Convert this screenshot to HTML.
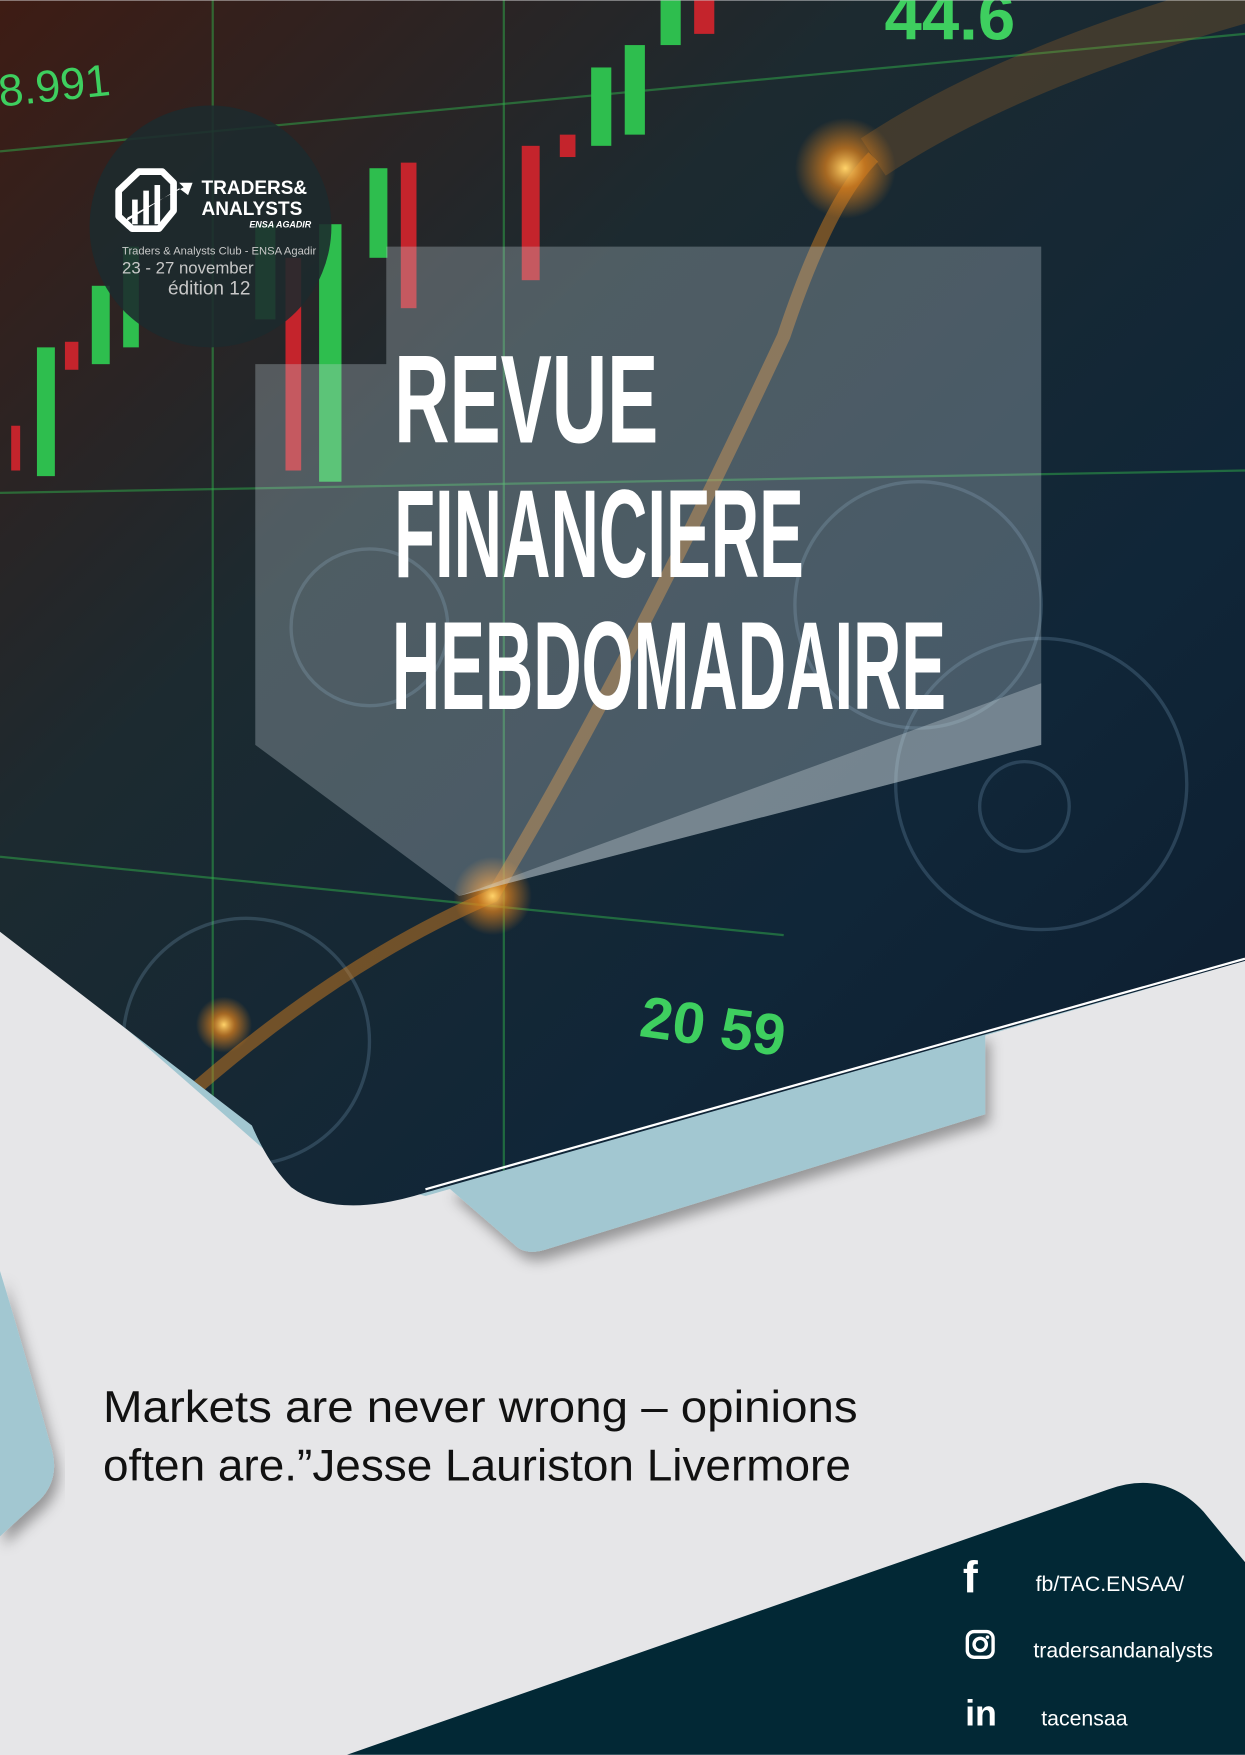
<!DOCTYPE html>
<html><head><meta charset="utf-8"><style>
html,body{margin:0;padding:0;background:#e6e6e8}
svg{display:block}
</style></head><body>
<svg width="1245" height="1755" viewBox="0 0 1112 1567" xmlns="http://www.w3.org/2000/svg">
<defs>
<linearGradient id="bg" x1="0" y1="0" x2="1" y2="1">
<stop offset="0" stop-color="#3e1c14"/><stop offset="0.35" stop-color="#1c2a30"/><stop offset="0.7" stop-color="#102638"/><stop offset="1" stop-color="#0c1c2e"/>
</linearGradient>
<radialGradient id="glow" cx="0.5" cy="0.5" r="0.5"><stop offset="0" stop-color="#ffd36a"/><stop offset="0.4" stop-color="#e0821c" stop-opacity="0.7"/><stop offset="1" stop-color="#e0821c" stop-opacity="0"/></radialGradient>
<filter id="sh" x="-20%" y="-20%" width="140%" height="140%"><feDropShadow dx="4" dy="8" stdDeviation="6" flood-color="#000" flood-opacity="0.35"/></filter>
<clipPath id="photo"><path d="M0,0 H1112 V858 L380,1065 Q300,1090 260,1060 Q240,1040 225,1005 L0,832 Z"/></clipPath>
</defs>
<rect x="0" y="0" width="1112" height="1567" fill="#e6e6e8"/>
<path d="M400,1060 L880,920 V995 L490,1115 Q470,1122 460,1112 Z" fill="#a2c7d1" filter="url(#sh)"/>
<path d="M0,820 L240,1030 L380,1068 L1112,858 V822 L380,1052 Z" fill="#a2c7d1"/>
<path d="M0,1135 Q20,1200 45,1290 Q55,1320 35,1340 L0,1372 Z" fill="#a2c7d1" filter="url(#sh)"/>
<g clip-path="url(#photo)">
<rect x="0" y="0" width="1112" height="1100" fill="url(#bg)"/>
<g stroke="#2fae4a" stroke-opacity="0.5" stroke-width="2" fill="none">
<line x1="0" y1="135" x2="1112" y2="30"/><line x1="0" y1="440" x2="1112" y2="420"/><line x1="0" y1="765" x2="700" y2="835"/>
<line x1="190" y1="0" x2="190" y2="1100"/><line x1="450" y1="0" x2="450" y2="1100"/>
</g>
<g>
<rect x="10" y="380" width="8" height="40" fill="#c4242c"/><rect x="33" y="310" width="16" height="115" fill="#2ebe4e"/>
<rect x="58" y="305" width="12" height="25" fill="#c4242c"/><rect x="82" y="255" width="16" height="70" fill="#2ebe4e"/>
<rect x="110" y="220" width="14" height="90" fill="#2ebe4e"/><rect x="228" y="200" width="18" height="85" fill="#2ebe4e"/>
<rect x="255" y="230" width="14" height="190" fill="#c4242c"/><rect x="285" y="200" width="20" height="230" fill="#2ebe4e"/>
<rect x="330" y="150" width="16" height="80" fill="#2ebe4e"/><rect x="358" y="145" width="14" height="130" fill="#c4242c"/>
<rect x="466" y="130" width="16" height="120" fill="#c4242c"/><rect x="500" y="120" width="14" height="20" fill="#c4242c"/>
<rect x="528" y="60" width="18" height="70" fill="#2ebe4e"/><rect x="558" y="40" width="18" height="80" fill="#2ebe4e"/>
<rect x="590" y="0" width="18" height="40" fill="#2ebe4e"/><rect x="620" y="0" width="18" height="30" fill="#c4242c"/>
</g>
<text x="0" y="95" font-family="Liberation Sans" font-size="40" fill="#3ecf5f" transform="rotate(-6 0 95)">8.991</text>
<text x="790" y="35" font-family="Liberation Sans" font-weight="bold" font-size="60" fill="#3ecf5f">44.6</text>
<text x="570" y="925" font-family="Liberation Sans" font-weight="bold" font-size="52" fill="#3ecf5f" transform="rotate(8 570 925)">20 59</text>
<g fill="none" stroke="#8fb7d4" stroke-opacity="0.22" stroke-width="3">
<circle cx="930" cy="700" r="130"/><circle cx="915" cy="720" r="40"/><circle cx="820" cy="540" r="110"/><circle cx="330" cy="560" r="70"/><circle cx="220" cy="930" r="110"/>
</g>
<path d="M160,985 Q300,860 440,800 Q560,600 700,300 Q740,180 780,140" stroke="#e0821c" stroke-opacity="0.45" stroke-width="12" fill="none"/>
<path d="M780,140 Q900,60 1112,0" stroke="#e0821c" stroke-opacity="0.2" stroke-width="40" fill="none"/>
<circle cx="440" cy="800" r="35" fill="url(#glow)"/><circle cx="200" cy="915" r="25" fill="url(#glow)"/><circle cx="755" cy="150" r="45" fill="url(#glow)"/>
</g>
<line x1="380" y1="1062" x2="1112" y2="856" stroke="#fff" stroke-width="2"/>
<path d="M345,220 H930 V665 L410,800 L228,665 V325 H345 Z" fill="#c7d3dc" fill-opacity="0.3"/>
<path d="M930,610 V665 L410,800 Z" fill="#dfe7ec" fill-opacity="0.3"/>
<g>
<circle cx="188" cy="202" r="108" fill="#1c2a2e" fill-opacity="0.88"/>
<g fill="none" stroke="#fff" stroke-width="6" stroke-linejoin="round">
<path d="M106,170 L124,153 L145,153 L155,163 V188 L142,204 H118 L106,193 Z"/>
</g>
<g fill="#fff"><rect x="118" y="178" width="5" height="22"/><rect x="128" y="170" width="5" height="30"/><rect x="138" y="165" width="5" height="35"/></g>
<path d="M112,198 L160,168 L168,174 L172,163 L160,163 L164,167 L114,194 Z" fill="#fff"/>
<text x="180" y="173" font-family="Liberation Sans" font-weight="bold" font-size="17" fill="#fff">TRADERS&amp;</text>
<text x="180" y="192" font-family="Liberation Sans" font-weight="bold" font-size="17" fill="#fff">ANALYSTS</text>
<text x="278" y="203" text-anchor="end" font-family="Liberation Sans" font-weight="bold" font-style="italic" font-size="8" fill="#fff">ENSA AGADIR</text>
<text x="109" y="227" font-family="Liberation Sans" font-size="10" fill="#c8c8c8">Traders &amp; Analysts Club - ENSA Agadir</text>
<text x="109" y="244" font-family="Liberation Sans" font-size="15" fill="#c8c8c8">23 -  27  november</text>
<text x="150" y="263" font-family="Liberation Sans" font-size="17" fill="#c8c8c8">édition 12</text>
</g>
<g font-family="Liberation Sans Narrow, Liberation Sans" font-weight="bold" fill="#fff">
<text x="352" y="395" font-size="112" textLength="236" lengthAdjust="spacingAndGlyphs">REVUE</text>
<text x="352" y="515" font-size="112" textLength="366" lengthAdjust="spacingAndGlyphs">FINANCIERE</text>
<text x="350" y="633" font-size="112" textLength="495" lengthAdjust="spacingAndGlyphs">HEBDOMADAIRE</text>
</g>
<g font-family="Liberation Sans" font-size="40" fill="#111">
<text x="92" y="1270" textLength="674" lengthAdjust="spacingAndGlyphs">Markets are never wrong – opinions</text>
<text x="92" y="1322" textLength="668" lengthAdjust="spacingAndGlyphs">often are.”Jesse Lauriston Livermore</text>
</g>
<path d="M310,1567 L990,1330 Q1040,1312 1075,1350 L1112,1395 V1567 Z" fill="#022835"/>
<g fill="#fff" font-family="Liberation Sans">
<text x="860" y="1422" font-weight="bold" font-size="40">f</text>
<text x="925" y="1421" font-size="19">fb/TAC.ENSAA/</text>
<rect x="864" y="1457" width="23" height="23" rx="6" fill="none" stroke="#fff" stroke-width="3"/>
<circle cx="875.5" cy="1468.5" r="5.5" fill="none" stroke="#fff" stroke-width="3"/><circle cx="882" cy="1462" r="1.6"/>
<text x="923" y="1480" font-size="19">tradersandanalysts</text>
<text x="862" y="1541" font-weight="bold" font-size="32">in</text>
<text x="930" y="1541" font-size="19">tacensaa</text>
</g>
</svg>
</body></html>
